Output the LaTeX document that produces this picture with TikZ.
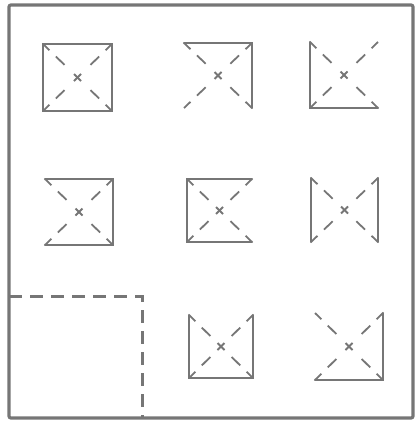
\documentclass[tikz,border=0pt]{standalone}
\usetikzlibrary{calc}
\definecolor{lineg}{RGB}{118,118,118}
\tikzset{
  frameline/.style={draw=lineg, line width=3.2pt, rounded corners=2pt},
  sideline/.style={draw=lineg, line width=2.2pt, line cap=round, line join=miter},
  diagline/.style={draw=lineg, line width=1.8pt, dash pattern=on 9pt off 9pt on 12pt off 100pt},
  crossline/.style={draw=lineg, line width=1.8pt},
  cornerdash/.style={draw=lineg, line width=3pt, dash pattern=on 13pt off 8pt}
}
\newcommand\mytile[5]{%
  \coordinate (#1-nw) at (#2,#3);
  \coordinate (#1-ne) at (#4,#3);
  \coordinate (#1-se) at (#4,#5);
  \coordinate (#1-sw) at (#2,#5);
  \coordinate (#1-c) at ($(#1-nw)!0.5!(#1-se)$);
  \foreach \k in {nw,ne,se,sw} {\draw[diagline] (#1-\k) -- (#1-c);}
  \draw[crossline] ($(#1-c)+(-3.5,-3.5)$) -- ($(#1-c)+(3.5,3.5)$);
  \draw[crossline] ($(#1-c)+(-3.5,3.5)$) -- ($(#1-c)+(3.5,-3.5)$);
}
\begin{document}
\begin{tikzpicture}[x=1pt,y=-1pt]
\useasboundingbox (0,0) rectangle (417,423);
% frame
\coordinate (f-nw) at (9,5);
\coordinate (f-se) at (413,418);
\draw[frameline] (f-nw) rectangle (f-se);
% dashed corner region
\coordinate (q-w) at (9,296);
\coordinate (q-c) at (142,296);
\coordinate (q-s) at (142,418);
\draw[cornerdash] (q-w) -- (q-c) -- (q-s);
% tiles
\mytile{a}{43}{44}{112}{111}
\draw[sideline] (a-nw) -- (a-ne) -- (a-se) -- (a-sw) -- cycle;
\mytile{b}{184}{43}{252}{108}
\draw[sideline] (b-nw) -- (b-ne) -- (b-se);
\mytile{c}{310}{42}{378}{108}
\draw[sideline] (c-nw) -- (c-sw) -- (c-se);
\mytile{d}{45}{179}{113}{245}
\draw[sideline] (d-nw) -- (d-ne) -- (d-se) -- (d-sw);
\mytile{e}{187}{179}{252}{242}
\draw[sideline] (e-ne) -- (e-nw) -- (e-sw) -- (e-se);
\mytile{f}{311}{178}{378}{242}
\draw[sideline] (f-nw) -- (f-sw);
\draw[sideline] (f-ne) -- (f-se);
\mytile{g}{189}{315}{253}{378}
\draw[sideline] (g-nw) -- (g-sw) -- (g-se) -- (g-ne);
\mytile{h}{315}{313}{383}{380}
\draw[sideline] (h-ne) -- (h-se) -- (h-sw);
\end{tikzpicture}
\end{document}
